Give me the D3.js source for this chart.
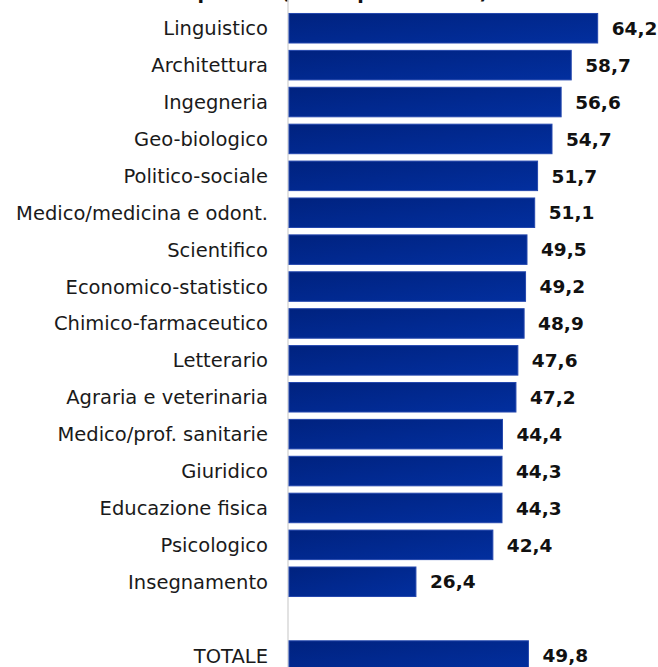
<!DOCTYPE html>
<html>
<head>
<meta charset="utf-8">
<script src="https://cdn.jsdelivr.net/npm/d3@7"></script>
<style>
  html, body { margin: 0; padding: 0; background: #fff; }
  svg { display: block; }
</style>
</head>
<body>
<svg id="chart" width="658" height="667"></svg>
<script>
// gruppi disciplinari e valori (%)
var categories = ["Linguistico", "Architettura", "Ingegneria", "Geo-biologico", "Politico-sociale",
  "Medico/medicina e odont.", "Scientifico", "Economico-statistico", "Chimico-farmaceutico",
  "Letterario", "Agraria e veterinaria", "Medico/prof. sanitarie", "Giuridico",
  "Educazione fisica", "Psicologico", "Insegnamento"];
var values = [64.2, 58.7, 56.6, 54.7, 51.7, 51.1, 49.5, 49.2, 48.9, 47.6, 47.2, 44.4, 44.3, 44.3, 42.4, 26.4];
var totalLabel = "TOTALE";
var totalValue = 49.8;

var rows = categories.map(function(c, i) { return { name: c, value: values[i] }; });
rows.push({ name: " ", value: null });
rows.push({ name: totalLabel, value: totalValue });

var svg = d3.select("#chart");
var fmt = function(v) { return d3.format(".1f")(v).replace(".", ","); };

var x = d3.scaleLinear().domain([0, 70]).range([289, 289 + 70 * 4.808]);
var y = d3.scaleBand()
    .domain(rows.map(function(d) { return d.name; }))
    .range([6.1, 677.7])
    .padding(0.2);

var defs = svg.append("defs");
var grad = defs.append("linearGradient")
    .attr("id", "barGrad")
    .attr("x1", "0").attr("y1", "0")
    .attr("x2", "1").attr("y2", "1");
grad.append("stop").attr("offset", "0%").attr("stop-color", "#00227f");
grad.append("stop").attr("offset", "100%").attr("stop-color", "#022f9f");

// titolo (quasi tutto fuori dall'area visibile)
svg.append("text")
    .attr("x", 488)
    .attr("y", -1.5)
    .attr("text-anchor", "end")
    .style("font-family", "DejaVu Sans")
    .style("font-weight", "bold")
    .style("font-size", "19px")
    .attr("fill", "#111")
    .text("Laureati per età (valori percentuali)");

// asse verticale
svg.append("line")
    .attr("x1", 288).attr("x2", 288)
    .attr("y1", 0).attr("y2", 667)
    .attr("stroke", "#d9d9d9")
    .attr("stroke-width", 1.5);

var bars = rows.filter(function(d) { return d.value !== null; });

svg.selectAll(".bar")
    .data(bars)
    .enter().append("rect")
    .attr("class", "bar")
    .attr("x", x(0))
    .attr("y", function(d) { return y(d.name); })
    .attr("width", function(d) { return x(d.value) - x(0); })
    .attr("height", y.bandwidth())
    .attr("fill", "url(#barGrad)")
    .attr("stroke", "#2447ad")
    .attr("stroke-width", 1);

svg.selectAll(".cat")
    .data(bars)
    .enter().append("text")
    .attr("class", "cat")
    .attr("x", 268)
    .attr("y", function(d) { return y(d.name) + y.bandwidth() / 2; })
    .attr("dy", "0.36em")
    .attr("text-anchor", "end")
    .style("font-family", "DejaVu Sans")
    .style("font-size", "19.5px")
    .attr("fill", "#1a1a1a")
    .text(function(d) { return d.name; });

svg.selectAll(".val")
    .data(bars)
    .enter().append("text")
    .attr("class", "val")
    .attr("x", function(d) { return x(d.value) + 14; })
    .attr("y", function(d) { return y(d.name) + y.bandwidth() / 2; })
    .attr("dy", "0.36em")
    .style("font-family", "DejaVu Sans")
    .style("font-weight", "bold")
    .style("font-size", "18.5px")
    .attr("fill", "#111")
    .text(function(d) { return fmt(d.value); });
</script>
</body>
</html>
